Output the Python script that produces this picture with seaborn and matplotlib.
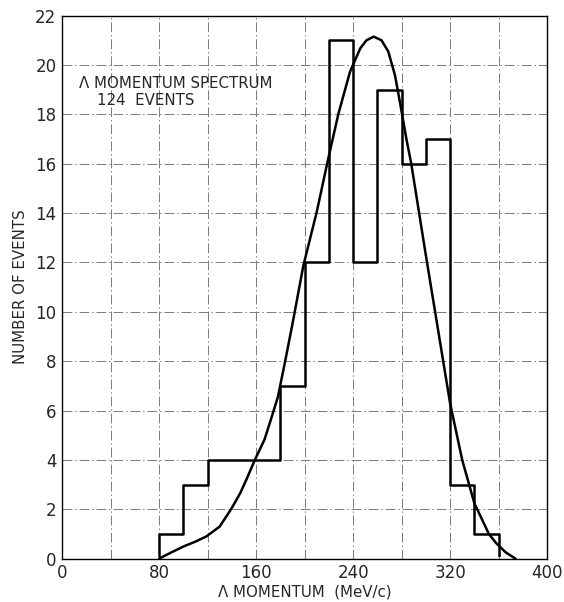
import numpy as np
import pandas as pd
import matplotlib
matplotlib.use("Agg")
import matplotlib.pyplot as plt
import matplotlib.patches as mpatches
import seaborn as sns

# Histogram data (20 MeV/c bins); empty end bins close the outline at y=0
bin_edges = [60, 80, 100, 120, 140, 160, 180, 200, 220, 240, 260, 280, 300, 320, 340, 360, 380]
counts = [0, 1, 3, 4, 4, 4, 7, 12, 21, 12, 19, 16, 17, 3, 1, 0]

# Smooth fitted curve
curve_x = [80, 90, 100, 110, 119, 130, 140, 147, 152, 159, 167, 172, 178, 184, 190, 199,
           210, 219.5, 228, 237.5, 246, 251, 257, 263.5, 269, 274.5, 279, 284, 288, 300,
           310, 320, 330, 340, 352, 358, 366, 374]
curve_y = [0, 0.25, 0.49, 0.69, 0.9, 1.3, 2.05, 2.66, 3.2, 4.0, 4.83, 5.6, 6.55, 8.0, 9.5, 11.87,
           14.04, 16.2, 18.04, 19.73, 20.68, 21.0, 21.15, 21.0, 20.55, 19.6, 18.4, 17.0, 16.0, 12.3,
           9.3, 6.3, 4.0, 2.25, 1.0, 0.63, 0.25, 0.0]

x_ticks = [0, 80, 160, 240, 320, 400]
y_ticks = list(range(0, 23, 2))

sns.set_style("white")
plt.rcParams['font.family'] = ['DejaVu Sans']

fig = plt.figure(figsize=(5.64, 6.02), dpi=100)
ax = fig.add_axes([0.110, 0.072, 0.860, 0.902])

centers = [(a + b) / 2 for a, b in zip(bin_edges[:-1], bin_edges[1:])]
hist_df = pd.DataFrame({"p": centers, "n": counts})
n_before = len(ax.lines)
sns.histplot(data=hist_df, x="p", weights="n", bins=bin_edges, element="step",
             fill=False, color="black", linewidth=1.8, ax=ax)
ax.set_xlim(0, 400)
ax.set_ylim(0, 22)
# hide the zero-height outline along the x axis
clip_rect = mpatches.Rectangle((0, 0.06), 400, 22, transform=ax.transData,
                               facecolor="none", edgecolor="none")
ax.add_patch(clip_rect)
for ln in ax.lines[n_before:]:
    ln.set_clip_path(clip_rect)

curve_df = pd.DataFrame({"p": curve_x, "n": curve_y})
sns.lineplot(data=curve_df, x="p", y="n", color="black", linewidth=1.8, ax=ax)

ax.set_xlim(0, 400)
ax.set_ylim(0, 22)
ax.set_xticks(x_ticks)
ax.set_yticks(y_ticks)
ax.set_xticks(np.arange(0, 401, 40), minor=True)
ax.grid(True, which="both", linestyle=(0, (10, 3, 1.5, 3)), color="#7a7a7a", linewidth=0.7)
ax.set_axisbelow(True)
ax.tick_params(axis="both", which="both", length=0, labelsize=12, pad=4)
for s in ax.spines.values():
    s.set_color("black")
    s.set_linewidth(1.0)
    s.set_zorder(5)

ax.set_xlabel("Λ MOMENTUM  (MeV/c)", fontsize=10.8, labelpad=2)
ax.set_ylabel("NUMBER OF EVENTS", fontsize=10.8, labelpad=5)

ax.text(14, 19.25, "Λ MOMENTUM SPECTRUM", fontsize=10.8, va="center", ha="left")
ax.text(29, 18.55, "124  EVENTS", fontsize=10.8, va="center", ha="left")

fig.savefig("out.png", dpi=100)
